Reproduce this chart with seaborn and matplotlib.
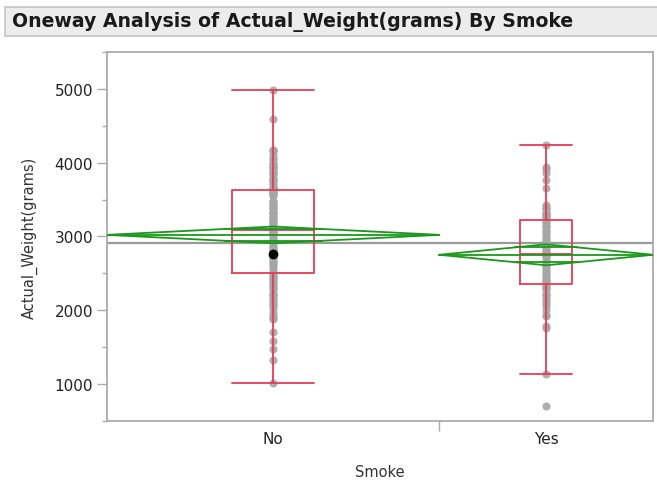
import matplotlib
matplotlib.use("Agg")
import matplotlib.pyplot as plt
from matplotlib import cbook
from matplotlib.patches import Rectangle
from matplotlib.ticker import MultipleLocator
import numpy as np
import pandas as pd
import seaborn as sns

# categories
groups = ["No", "Yes"]

# individual birth weights (grams)
weights_no = [4990, 4593,
              4174, 4167, 4153, 4111, 4054, 4054, 3997, 3983, 3969, 3941, 3941,
              3912, 3884, 3860, 3856, 3827, 3799, 3770, 3770, 3756, 3728, 3699,
              3651, 3651, 3651, 3643,
              3637, 3629, 3614, 3600, 3586, 3572, 3572, 3544, 3487, 3473, 3459,
              3430, 3416, 3402, 3374, 3374, 3331, 3317, 3317, 3274, 3260, 3234,
              3225, 3203, 3203, 3175, 3147, 3132, 3104,
              3090,
              3080, 3062, 3062, 3042, 3033, 3005, 2977, 2948, 2920, 2920, 2906,
              2877, 2863, 2835, 2821, 2807, 2778, 2769, 2769, 2751, 2722, 2700,
              2665, 2637, 2622, 2600, 2557, 2523,
              2495, 2466, 2450, 2424, 2410, 2381, 2353, 2325, 2296, 2282, 2240,
              2225, 2211, 2187, 2155, 2126, 2100, 2084, 2055, 2013, 1970, 1928,
              1899, 1885, 1701, 1588, 1474, 1330, 1021]
weights_yes = [4238, 3941, 3912, 3860, 3770, 3651, 3430, 3402, 3374, 3374, 3317,
               3317, 3303, 3289, 3274, 3260, 3246, 3232,
               3225, 3203, 3175, 3147, 3132, 3090, 3062, 3042, 3005, 2977, 2948,
               2920, 2906, 2877, 2863, 2835, 2807, 2782,
               2769, 2757,
               2750, 2733, 2722, 2665, 2663, 2637, 2594, 2590, 2551, 2523, 2495,
               2466, 2438, 2414, 2410, 2381, 2367,
               2353, 2325, 2301, 2296, 2282, 2240, 2211, 2187, 2155, 2126, 2084,
               2055, 2000, 1936, 1928, 1790, 1760, 1135, 709]

# means diamonds (mean and 95% CI half-width)
group_means = [3022, 2752]
ci_half = [113, 142]

# the one highlighted (black) row
highlight_group = "No"
highlight_value = 2769

RED = "#E63C55"
GREEN = "#1A981A"
GRAY = "#a6a6a6"
FRAME = "#ababab"

sns.set_style("white")
plt.rcParams["font.family"] = ["DejaVu Sans"]

fig = plt.figure(figsize=(6.57, 4.81), dpi=100)
ax = fig.add_axes([0.163, 0.1227, 0.831, 0.7671])

data = [weights_no, weights_yes]
counts = [len(w) for w in data]
edges = np.concatenate([[0], np.cumsum(counts)])
centers = (edges[:-1] + edges[1:]) / 2

df = pd.DataFrame({
    "Smoke": ["No"] * len(weights_no) + ["Yes"] * len(weights_yes),
    "weight": weights_no + weights_yes,
})
df["x"] = df["Smoke"].map(dict(zip(groups, centers)))

# grand mean line
grand = np.average(group_means, weights=counts)
ax.axhline(grand, color="#9a9a9a", lw=1.6, zorder=1)

sns.scatterplot(data=df, x="x", y="weight", color=GRAY, s=34, linewidth=0,
                alpha=0.9, ax=ax, zorder=2, legend=False)

# box plots, width proportional to group size
stats = [cbook.boxplot_stats(np.array(w), whis=1.5)[0] for w in data]
widths = [0.245 * c for c in counts]
line = dict(color=RED, lw=1.3)
ax.bxp(stats, positions=centers, widths=widths, capwidths=widths,
       showfliers=False, boxprops=line, whiskerprops=line, capprops=line,
       medianprops=line, manage_ticks=False, zorder=3)

# means diamonds with overlap marks
for i, g in enumerate(groups):
    l, r, c = edges[i], edges[i + 1], centers[i]
    m, h = group_means[i], ci_half[i]
    ax.plot([l, c, r, c, l], [m, m + h, m, m - h, m], color=GREEN, lw=1.3, zorder=4)
    ax.plot([l, r], [m, m], color=GREEN, lw=1.3, zorder=4)
    o = h / np.sqrt(2)
    hw = (r - l) / 2 * (1 - 1 / np.sqrt(2))
    for s in (1, -1):
        ax.plot([c - hw, c + hw], [m + s * o, m + s * o], color=GREEN, lw=1.3, zorder=4)

hx = centers[groups.index(highlight_group)]
ax.scatter([hx], [highlight_value], color="black", s=36, zorder=5)

ax.set_xlim(0, edges[-1])
ax.set_ylim(500, 5500)
ax.yaxis.set_major_locator(MultipleLocator(1000))
ax.yaxis.set_minor_locator(MultipleLocator(500))
ax.set_xticks(edges[1:-1])
ax.set_xticklabels([""] * (len(edges) - 2))
ax.set_xticks(centers, minor=True)
ax.set_xticklabels(groups, minor=True)

ax.tick_params(axis="x", which="major", length=7, width=1, color=FRAME, direction="out", bottom=True)
ax.tick_params(axis="x", which="minor", length=0, pad=7, labelsize=11, labelcolor="#222222")
ax.tick_params(axis="y", which="major", length=7, width=1, color=FRAME, direction="out",
               left=True, labelsize=11, labelcolor="#222222", pad=3)
ax.tick_params(axis="y", which="minor", length=3.5, width=1, color=FRAME, direction="out", left=True)

for sp in ax.spines.values():
    sp.set_color(FRAME)
    sp.set_linewidth(1.3)

ax.set_xlabel("Smoke", fontsize=10.5, color="#333333", labelpad=13)
ax.set_ylabel("Actual_Weight(grams)", fontsize=10.5, color="#333333", labelpad=12)

# JMP style title bar
fig.patches.append(Rectangle((5 / 657, 1 - 37 / 481), 1.0, 29 / 481, transform=fig.transFigure,
                             facecolor="#ececec", edgecolor="#c4c4c4", lw=1.2))
fig.text(12 / 657, 1 - 22.5 / 481, "Oneway Analysis of Actual_Weight(grams) By Smoke",
         fontsize=13.6, fontweight="bold", color="#1a1a1a", va="center", ha="left")

fig.savefig("out.png", dpi=100)
